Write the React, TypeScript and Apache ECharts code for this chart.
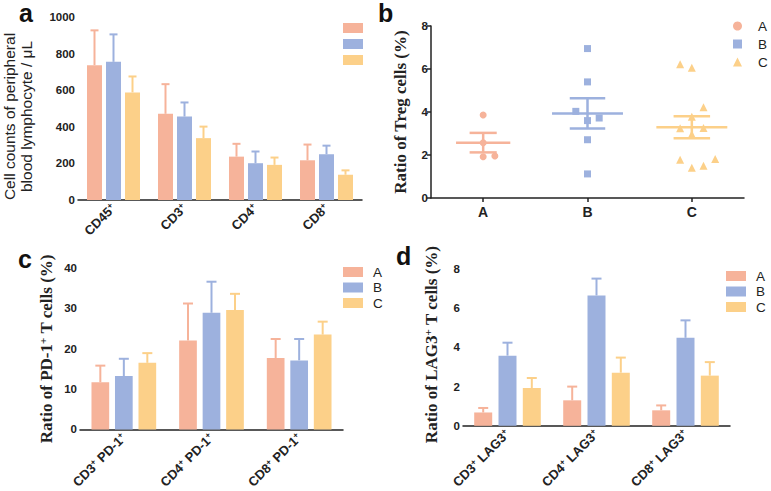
import { useEffect, useRef } from 'react';
import * as echarts from 'echarts';

// Group palette shared by all four panels
const GROUPS = ['A', 'B', 'C'];
const COLORS = ['#F6B39A', '#9DB1DE', '#FCD089'];

// Panel a: absolute counts (cells / µL), mean and SD
const COUNT_CATS = ['CD45', 'CD3', 'CD4', 'CD8'];
const COUNT_A = [737, 471, 237, 217];
const COUNT_A_SD = [190, 162, 70, 86];
const COUNT_B = [755, 456, 201, 250];
const COUNT_B_SD = [150, 77, 64, 47];
const COUNT_C = [588, 338, 192, 138];
const COUNT_C_SD = [87, 63, 40, 24];

// Panel b: individual Treg ratios (%) and their column slot in the dot plot
const TREG_A = [3.86, 2.57, 1.92, 1.95];
const TREG_A_SLOT = [0, 0, 0, 1];
const TREG_B = [6.95, 5.4, 4.03, 3.6, 3.72, 2.71, 1.12];
const TREG_B_SLOT = [0, 0, -1, 0, 1, 0, 0];
const TREG_C = [6.22, 6.06, 4.22, 3.78, 3.24, 3.26, 2.96, 1.78, 1.41, 1.5, 1.81];
const TREG_C_SLOT = [-1, 0, 1, 0, -1, 1, 0, -1, 0, 1, 2];

// Panel c: PD-1+ ratios (%), mean and SD
const PD1_CATS = ['CD3', 'CD4', 'CD8'];
const PD1_A = [11.7, 22.0, 17.7];
const PD1_A_SD = [4.1, 9.2, 4.7];
const PD1_B = [13.2, 28.9, 17.1];
const PD1_B_SD = [4.3, 7.7, 5.3];
const PD1_C = [16.5, 29.6, 23.5];
const PD1_C_SD = [2.4, 4.0, 3.2];

// Panel d: LAG3+ ratios (%), mean and SD
const LAG3_CATS = ['CD3', 'CD4', 'CD8'];
const LAG3_A = [0.68, 1.3, 0.79];
const LAG3_A_SD = [0.23, 0.7, 0.25];
const LAG3_B = [3.58, 6.65, 4.49];
const LAG3_B_SD = [0.66, 0.86, 0.89];
const LAG3_C = [1.93, 2.71, 2.56];
const LAG3_C_SD = [0.51, 0.77, 0.69];

// Tick values
const COUNT_TICKS = { min: 0, max: 1000, interval: 200 };
const TREG_TICKS = { min: 0, max: 8, interval: 2 };
const PD1_TICKS = { min: 0, max: 40, interval: 10 };
const LAG3_TICKS = { min: 0, max: 8, interval: 2 };

const SANS = 'Liberation Sans, Arial, sans-serif';
const SERIF = 'Liberation Serif, Times New Roman, serif';
const INK = '#222';

const JITTER_STEP = 0.112;
const MEAN_HALF = [0.26, 0.34, 0.34];
const SEM_HALF = [0.13, 0.17, 0.175];

function meanSem(v: number[]) {
  const n = v.length;
  const m = v.reduce((s, x) => s + x, 0) / n;
  const sd = Math.sqrt(v.reduce((s, x) => s + (x - m) * (x - m), 0) / (n - 1));
  return [m, sd / Math.sqrt(n)];
}

const axisCommon = {
  axisLine: { lineStyle: { color: INK, width: 1.5 } },
  axisTick: { length: 4, lineStyle: { color: INK, width: 1.5 } },
  splitLine: { show: false },
};

const tickLabel = {
  color: INK,
  fontWeight: 'bold' as const,
  fontSize: 11.5,
  fontFamily: SANS,
  margin: 3,
  formatter: (v: number) => String(v),
};

const supRich = {
  sup: { fontSize: 8.5, fontWeight: 'bold', fontFamily: SANS, color: INK, verticalAlign: 'top', padding: [0, 0, 6, 0] },
};

function barSeries(means: number[], g: number, axis: number, barWidth: number, barGap: string) {
  return {
    type: 'bar',
    name: GROUPS[g],
    xAxisIndex: axis,
    yAxisIndex: axis,
    data: means,
    barWidth,
    barGap,
    itemStyle: { color: COLORS[g] },
  };
}

function errorSeries(means: number[], sds: number[], g: number, axis: number, offset: number, cap: number) {
  return {
    type: 'custom',
    xAxisIndex: axis,
    yAxisIndex: axis,
    z: 3,
    data: means.map((m, i) => [i, m, m + sds[i]]),
    renderItem: (_p: any, api: any) => {
      const base = api.coord([api.value(0), api.value(1)]);
      const top = api.coord([api.value(0), api.value(2)]);
      const x = base[0] + offset;
      const style = { stroke: COLORS[g], lineWidth: 2 };
      return {
        type: 'group',
        children: [
          { type: 'line', shape: { x1: x, y1: base[1], x2: x, y2: top[1] }, style },
          { type: 'line', shape: { x1: x - cap, y1: top[1], x2: x + cap, y2: top[1] }, style },
        ],
      };
    },
  };
}

function groupedBars(
  sets: number[][],
  sds: number[][],
  axis: number,
  barWidth: number,
  gapPx: number,
  cap: number
) {
  const out: any[] = [];
  const gap = `${(gapPx / barWidth) * 100}%`;
  sets.forEach((m, g) => out.push(barSeries(m, g, axis, barWidth, gap)));
  sets.forEach((m, g) => out.push(errorSeries(m, sds[g], g, axis, (g - 1) * (barWidth + gapPx), cap)));
  return out;
}

function legend(left: number, top: number, withText: boolean, icons?: string[]) {
  return {
    orient: 'vertical',
    left,
    top,
    padding: 0,
    itemWidth: icons ? 9 : 20,
    itemHeight: icons ? 9 : 10,
    itemGap: withText ? (icons ? 4 : 1.5) : 6,
    selectedMode: false,
    icon: icons ? undefined : 'rect',
    data: GROUPS.map((name, i) => (icons ? { name, icon: icons[i] } : { name })),
    formatter: withText ? '{name}' : () => '',
    textStyle: {
      fontFamily: SANS,
      fontSize: 13.5,
      color: INK,
      padding: [0, 0, 0, icons ? 11 : 5],
    },
  };
}

function treg(values: number[], slots: number[], g: number) {
  return {
    type: 'scatter',
    name: GROUPS[g],
    xAxisIndex: 1,
    yAxisIndex: 1,
    symbol: ['circle', 'rect', 'triangle'][g],
    symbolSize: [7, 7, 8][g],
    itemStyle: { color: COLORS[g], opacity: 1 },
    data: values.map((v, i) => [g + 0.5 + slots[i] * JITTER_STEP, v]),
  };
}

function tregSummary() {
  const stats = [TREG_A, TREG_B, TREG_C].map(meanSem);
  return {
    type: 'custom',
    xAxisIndex: 1,
    yAxisIndex: 1,
    z: 3,
    data: stats.map(([m, s], g) => [g + 0.5, m, m - s, m + s, g]),
    renderItem: (_p: any, api: any) => {
      const g = api.value(4);
      const cx = api.value(0);
      const style = { stroke: COLORS[g], lineWidth: 2.5 };
      const mL = api.coord([cx - MEAN_HALF[g], api.value(1)]);
      const mR = api.coord([cx + MEAN_HALF[g], api.value(1)]);
      const lo = api.coord([cx, api.value(2)]);
      const hi = api.coord([cx, api.value(3)]);
      const capW = api.coord([cx + SEM_HALF[g], 0])[0] - lo[0];
      return {
        type: 'group',
        children: [
          { type: 'line', shape: { x1: mL[0], y1: mL[1], x2: mR[0], y2: mR[1] }, style },
          { type: 'line', shape: { x1: lo[0], y1: lo[1], x2: hi[0], y2: hi[1] }, style },
          { type: 'line', shape: { x1: lo[0] - capW, y1: lo[1], x2: lo[0] + capW, y2: lo[1] }, style },
          { type: 'line', shape: { x1: hi[0] - capW, y1: hi[1], x2: hi[0] + capW, y2: hi[1] }, style },
        ],
      };
    },
  };
}

function serifName(extra: any = {}) {
  return {
    fontFamily: SERIF,
    fontWeight: 'bold',
    fontSize: 17,
    color: INK,
    rich: {
      sup: { fontFamily: SERIF, fontWeight: 'bold', fontSize: 11, color: INK, verticalAlign: 'top', padding: [0, 0, 8, 0] },
    },
    ...extra,
  };
}

function panelLabel(text: string, x: number, y: number) {
  return {
    type: 'text',
    x,
    y,
    style: { text, fontFamily: SANS, fontWeight: 'bold', fontSize: 25, fill: '#111', verticalAlign: 'top' },
  };
}

function rotatedCats(fmt: (v: string) => string) {
  return {
    ...tickLabel,
    fontSize: 13,
    rotate: 45,
    margin: 6,
    formatter: fmt,
    rich: supRich,
  };
}

export default function App() {
  const ref = useRef<HTMLDivElement>(null);

  useEffect(() => {
    if (!ref.current) return;
    const chart = echarts.init(ref.current, undefined, { renderer: 'svg' });

    const option: any = {
      animation: false,
      backgroundColor: '#fff',
      grid: [
        { left: 78, top: 17, width: 284, height: 183 },
        { left: 431, top: 26, width: 313, height: 172 },
        { left: 80, top: 268, width: 263, height: 163 },
        { left: 463, top: 269, width: 267, height: 162 },
      ],
      xAxis: [
        {
          type: 'category',
          gridIndex: 0,
          data: COUNT_CATS,
          ...axisCommon,
          axisTick: { ...axisCommon.axisTick, alignWithLabel: true },
          axisLabel: rotatedCats((v: string) => `${v}{sup|+}`),
        },
        {
          type: 'value',
          gridIndex: 1,
          min: 0,
          max: 3,
          ...axisCommon,
          axisTick: { ...axisCommon.axisTick, customValues: [0.5, 1.5, 2.5] },
          axisLabel: {
            ...tickLabel,
            fontSize: 14,
            margin: 7,
            customValues: [0.5, 1.5, 2.5],
            formatter: (v: number) => GROUPS[Math.floor(v)] ?? '',
          },
        },
        {
          type: 'category',
          gridIndex: 2,
          data: PD1_CATS,
          ...axisCommon,
          axisTick: { ...axisCommon.axisTick, alignWithLabel: true },
          axisLabel: rotatedCats((v: string) => `${v}{sup|+} PD-1{sup|+}`),
        },
        {
          type: 'category',
          gridIndex: 3,
          data: LAG3_CATS,
          ...axisCommon,
          axisTick: { ...axisCommon.axisTick, alignWithLabel: true },
          axisLabel: rotatedCats((v: string) => `${v}{sup|+} LAG3{sup|+}`),
        },
      ],
      yAxis: [
        {
          type: 'value',
          gridIndex: 0,
          ...COUNT_TICKS,
          ...axisCommon,
          axisLabel: tickLabel,
          name: 'Cell counts of peripheral\nblood lymphocyte / μL',
          nameLocation: 'middle',
          nameRotate: 90,
          nameGap: 43,
          nameTextStyle: { fontFamily: SANS, fontSize: 15.5, color: INK, lineHeight: 17, padding: [0, 16, 0, 0] },
        },
        {
          type: 'value',
          gridIndex: 1,
          ...TREG_TICKS,
          ...axisCommon,
          axisLabel: tickLabel,
          name: 'Ratio of Treg cells (%)',
          nameLocation: 'middle',
          nameRotate: 90,
          nameGap: 22,
          nameTextStyle: serifName(),
        },
        {
          type: 'value',
          gridIndex: 2,
          ...PD1_TICKS,
          ...axisCommon,
          axisLabel: tickLabel,
          name: 'Ratio of PD-1{sup|+} T cells (%)',
          nameLocation: 'middle',
          nameRotate: 90,
          nameGap: 24,
          nameTextStyle: serifName(),
        },
        {
          type: 'value',
          gridIndex: 3,
          ...LAG3_TICKS,
          ...axisCommon,
          axisLabel: tickLabel,
          name: 'Ratio of LAG3{sup|+} T cells (%)',
          nameLocation: 'middle',
          nameRotate: 90,
          nameGap: 22,
          nameTextStyle: serifName({ padding: [0, 0, 0, 6] }),
        },
      ],
      legend: [
        legend(343, 23, false),
        legend(733, 19, true, ['circle', 'rect', 'triangle']),
        legend(343, 265, true),
        legend(726, 269, true),
      ],
      graphic: [
        panelLabel('a', 19, 0),
        panelLabel('b', 378, 0),
        panelLabel('c', 18, 246),
        panelLabel('d', 396, 243),
      ],
      series: [
        ...groupedBars([COUNT_A, COUNT_B, COUNT_C], [COUNT_A_SD, COUNT_B_SD, COUNT_C_SD], 0, 15, 4, 4),
        treg(TREG_A, TREG_A_SLOT, 0),
        treg(TREG_B, TREG_B_SLOT, 1),
        treg(TREG_C, TREG_C_SLOT, 2),
        tregSummary(),
        ...groupedBars([PD1_A, PD1_B, PD1_C], [PD1_A_SD, PD1_B_SD, PD1_C_SD], 2, 17.7, 5.8, 5),
        ...groupedBars([LAG3_A, LAG3_B, LAG3_C], [LAG3_A_SD, LAG3_B_SD, LAG3_C_SD], 3, 18, 6.3, 5),
      ],
    };

    chart.setOption(option);
    return () => chart.dispose();
  }, []);

  return (
    <div
      ref={ref}
      style={{ position: 'fixed', left: 0, top: 0, width: 771, height: 491, background: '#fff' }}
    />
  );
}
